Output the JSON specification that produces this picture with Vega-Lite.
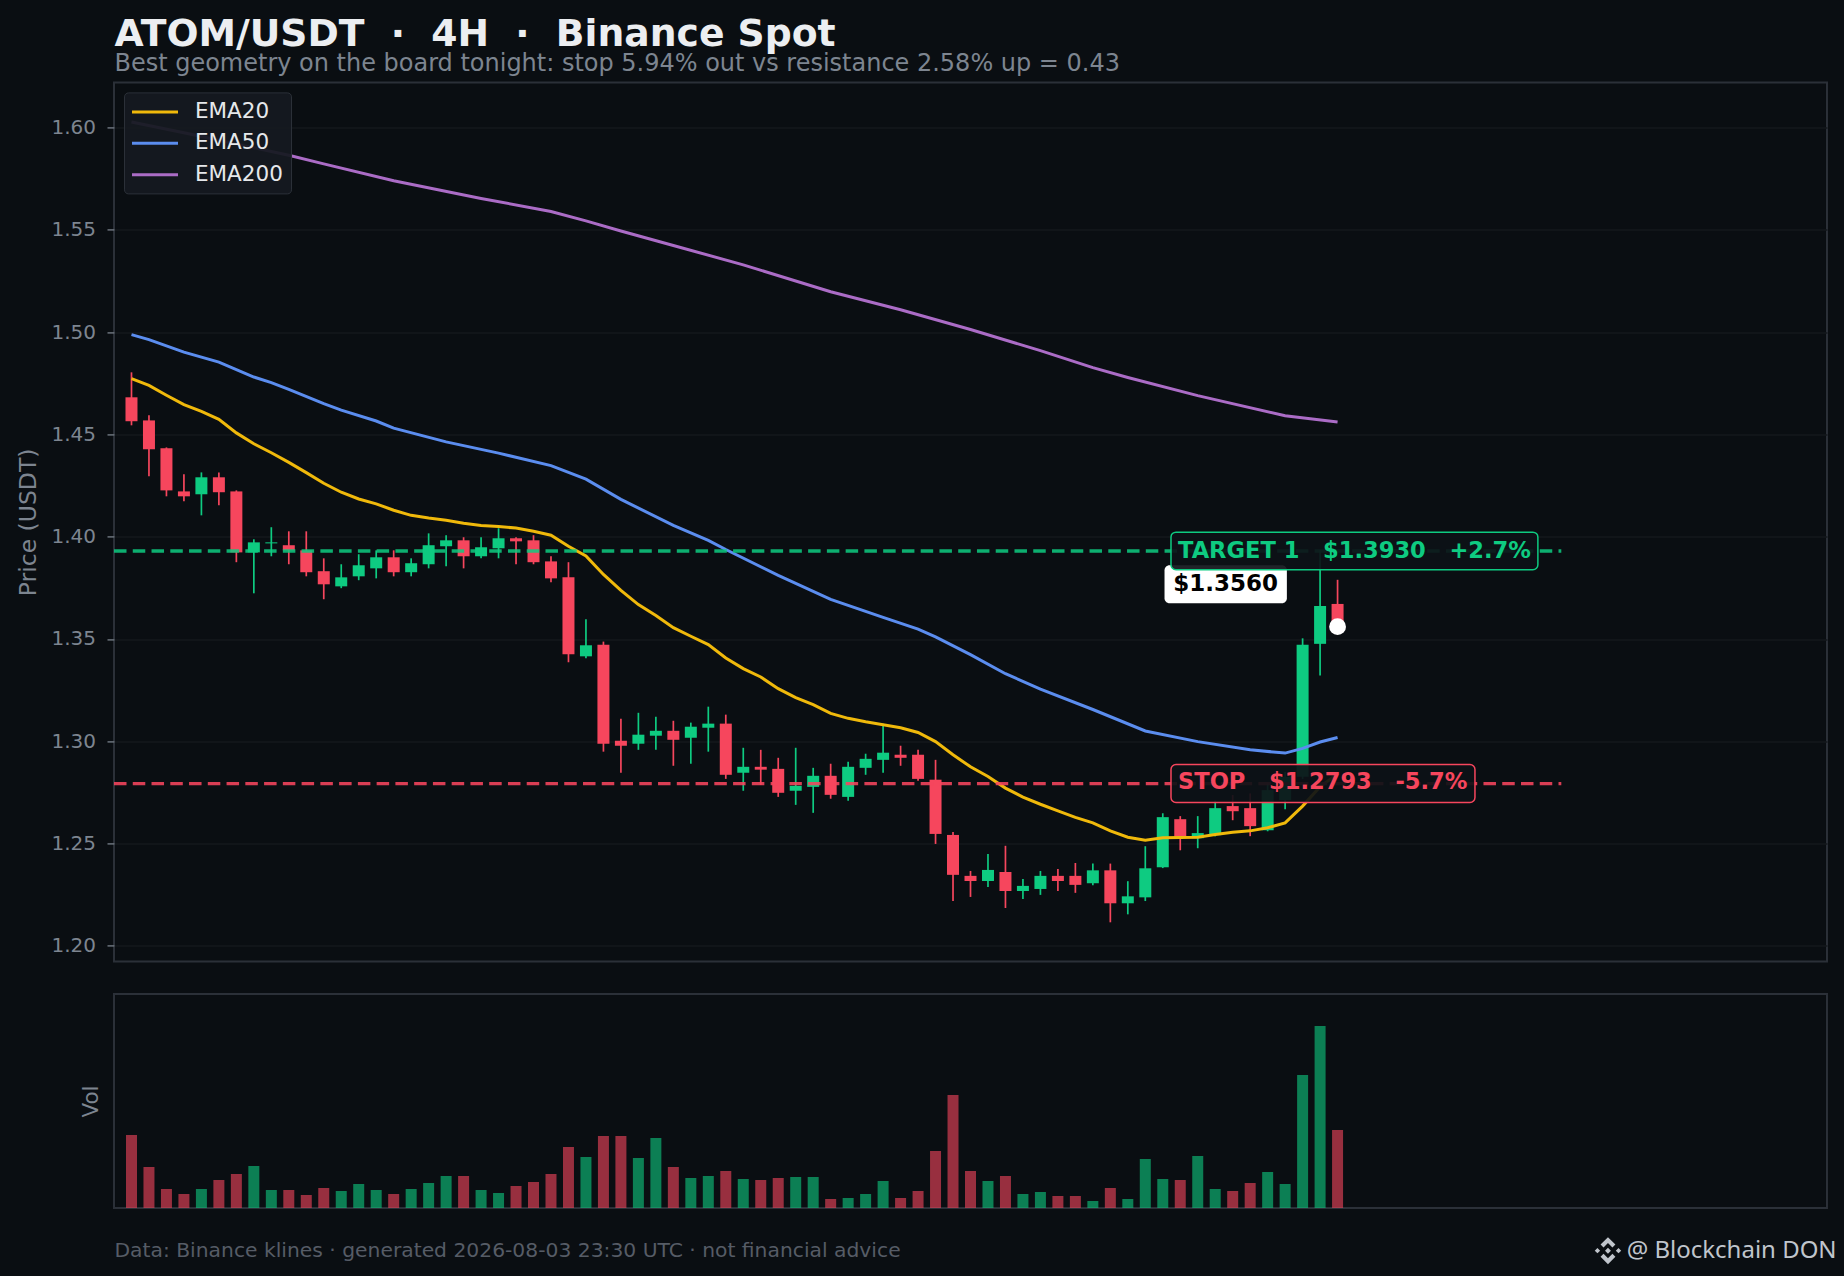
{
  "$schema": "https://vega.github.io/schema/vega-lite/v6.json",
  "background": "#0a0e12",
  "padding": {"left": 15, "top": 15.4, "right": 9, "bottom": 13},
  "title": {
    "text": "ATOM/USDT\u00a0\u00a0·\u00a0\u00a04H\u00a0\u00a0·\u00a0\u00a0Binance Spot",
    "subtitle": "Best geometry on the board tonight: stop 5.94% out vs resistance 2.58% up = 0.43",
    "anchor": "start",
    "dx": 99,
    "font": "DejaVu Sans",
    "fontSize": 37.7,
    "fontWeight": "bold",
    "color": "#eceef1",
    "subtitleFont": "DejaVu Sans",
    "subtitleFontSize": 24,
    "subtitleColor": "#7d8590",
    "subtitlePadding": -1,
    "offset": 5
  },
  "datasets": {
    "candles": [
      {"i":0,"o":1.4681,"h":1.4803,"l":1.4544,"c":1.4564,"v":219,"dir":"down"},
      {"i":1,"o":1.4568,"h":1.4593,"l":1.4295,"c":1.4427,"v":123,"dir":"down"},
      {"i":2,"o":1.4432,"h":1.4436,"l":1.4197,"c":1.4226,"v":57,"dir":"down"},
      {"i":3,"o":1.4221,"h":1.4305,"l":1.4173,"c":1.4197,"v":42,"dir":"down"},
      {"i":4,"o":1.4207,"h":1.4314,"l":1.4104,"c":1.429,"v":57,"dir":"up"},
      {"i":5,"o":1.429,"h":1.4314,"l":1.4153,"c":1.4217,"v":84,"dir":"down"},
      {"i":6,"o":1.4221,"h":1.4226,"l":1.3875,"c":1.3923,"v":102,"dir":"down"},
      {"i":7,"o":1.3923,"h":1.3987,"l":1.3723,"c":1.3972,"v":126,"dir":"up"},
      {"i":8,"o":1.3967,"h":1.4046,"l":1.3904,"c":1.3972,"v":54,"dir":"up"},
      {"i":9,"o":1.3958,"h":1.4026,"l":1.3865,"c":1.3933,"v":54,"dir":"down"},
      {"i":10,"o":1.3933,"h":1.4026,"l":1.3806,"c":1.3826,"v":39,"dir":"down"},
      {"i":11,"o":1.3831,"h":1.3894,"l":1.3694,"c":1.3767,"v":60,"dir":"down"},
      {"i":12,"o":1.3757,"h":1.3865,"l":1.3748,"c":1.3801,"v":51,"dir":"up"},
      {"i":13,"o":1.3806,"h":1.3914,"l":1.3787,"c":1.386,"v":72,"dir":"up"},
      {"i":14,"o":1.3845,"h":1.3933,"l":1.3796,"c":1.3899,"v":54,"dir":"up"},
      {"i":15,"o":1.3899,"h":1.3933,"l":1.3806,"c":1.3826,"v":42,"dir":"down"},
      {"i":16,"o":1.3826,"h":1.3894,"l":1.3806,"c":1.387,"v":57,"dir":"up"},
      {"i":17,"o":1.3865,"h":1.4016,"l":1.3845,"c":1.3958,"v":75,"dir":"up"},
      {"i":18,"o":1.3953,"h":1.4007,"l":1.3855,"c":1.3982,"v":96,"dir":"up"},
      {"i":19,"o":1.3982,"h":1.3997,"l":1.3845,"c":1.3904,"v":96,"dir":"down"},
      {"i":20,"o":1.3904,"h":1.3997,"l":1.3894,"c":1.3948,"v":54,"dir":"up"},
      {"i":21,"o":1.3943,"h":1.4041,"l":1.3894,"c":1.3992,"v":45,"dir":"up"},
      {"i":22,"o":1.3992,"h":1.3997,"l":1.3865,"c":1.3977,"v":66,"dir":"down"},
      {"i":23,"o":1.3982,"h":1.4007,"l":1.3865,"c":1.3875,"v":78,"dir":"down"},
      {"i":24,"o":1.3879,"h":1.3904,"l":1.3777,"c":1.3796,"v":102,"dir":"down"},
      {"i":25,"o":1.3801,"h":1.3875,"l":1.3386,"c":1.3425,"v":183,"dir":"down"},
      {"i":26,"o":1.3415,"h":1.3596,"l":1.3406,"c":1.3469,"v":153,"dir":"up"},
      {"i":27,"o":1.3472,"h":1.3487,"l":1.2949,"c":1.2988,"v":216,"dir":"down"},
      {"i":28,"o":1.3002,"h":1.311,"l":1.2846,"c":1.2978,"v":216,"dir":"down"},
      {"i":29,"o":1.2988,"h":1.3139,"l":1.2958,"c":1.3032,"v":150,"dir":"up"},
      {"i":30,"o":1.3027,"h":1.312,"l":1.2958,"c":1.3051,"v":210,"dir":"up"},
      {"i":31,"o":1.3051,"h":1.31,"l":1.288,"c":1.3007,"v":123,"dir":"down"},
      {"i":32,"o":1.3017,"h":1.3091,"l":1.289,"c":1.3071,"v":90,"dir":"up"},
      {"i":33,"o":1.3066,"h":1.3169,"l":1.2949,"c":1.3086,"v":96,"dir":"up"},
      {"i":34,"o":1.3086,"h":1.313,"l":1.2816,"c":1.2836,"v":111,"dir":"down"},
      {"i":35,"o":1.2846,"h":1.2968,"l":1.2758,"c":1.2875,"v":87,"dir":"up"},
      {"i":36,"o":1.2875,"h":1.2958,"l":1.2787,"c":1.2861,"v":84,"dir":"down"},
      {"i":37,"o":1.2865,"h":1.2919,"l":1.2728,"c":1.2748,"v":90,"dir":"down"},
      {"i":38,"o":1.2758,"h":1.2968,"l":1.2689,"c":1.2782,"v":93,"dir":"up"},
      {"i":39,"o":1.2777,"h":1.287,"l":1.265,"c":1.2831,"v":93,"dir":"up"},
      {"i":40,"o":1.2831,"h":1.289,"l":1.2719,"c":1.2738,"v":27,"dir":"down"},
      {"i":41,"o":1.2728,"h":1.29,"l":1.2709,"c":1.2875,"v":30,"dir":"up"},
      {"i":42,"o":1.287,"h":1.2939,"l":1.2836,"c":1.2914,"v":42,"dir":"up"},
      {"i":43,"o":1.2909,"h":1.3086,"l":1.2846,"c":1.2944,"v":81,"dir":"up"},
      {"i":44,"o":1.2934,"h":1.2978,"l":1.288,"c":1.2919,"v":30,"dir":"down"},
      {"i":45,"o":1.2934,"h":1.2958,"l":1.2807,"c":1.2816,"v":51,"dir":"down"},
      {"i":46,"o":1.2812,"h":1.2909,"l":1.2498,"c":1.2547,"v":171,"dir":"down"},
      {"i":47,"o":1.2542,"h":1.2557,"l":1.2219,"c":1.2347,"v":339,"dir":"down"},
      {"i":48,"o":1.2342,"h":1.2366,"l":1.2239,"c":1.2317,"v":111,"dir":"down"},
      {"i":49,"o":1.2317,"h":1.2449,"l":1.2288,"c":1.2371,"v":81,"dir":"up"},
      {"i":50,"o":1.2361,"h":1.2489,"l":1.2185,"c":1.2268,"v":96,"dir":"down"},
      {"i":51,"o":1.2268,"h":1.2327,"l":1.2229,"c":1.2293,"v":42,"dir":"up"},
      {"i":52,"o":1.2278,"h":1.2366,"l":1.2249,"c":1.2342,"v":48,"dir":"up"},
      {"i":53,"o":1.2342,"h":1.2376,"l":1.2268,"c":1.2317,"v":36,"dir":"down"},
      {"i":54,"o":1.2342,"h":1.2405,"l":1.2259,"c":1.2298,"v":36,"dir":"down"},
      {"i":55,"o":1.2306,"h":1.2402,"l":1.2296,"c":1.2369,"v":21,"dir":"up"},
      {"i":56,"o":1.2369,"h":1.2402,"l":1.2115,"c":1.2208,"v":60,"dir":"down"},
      {"i":57,"o":1.2208,"h":1.2316,"l":1.2154,"c":1.2242,"v":27,"dir":"up"},
      {"i":58,"o":1.2237,"h":1.2487,"l":1.2219,"c":1.2379,"v":147,"dir":"up"},
      {"i":59,"o":1.2384,"h":1.2648,"l":1.238,"c":1.2629,"v":87,"dir":"up"},
      {"i":60,"o":1.2619,"h":1.2634,"l":1.2467,"c":1.2531,"v":84,"dir":"down"},
      {"i":61,"o":1.2526,"h":1.2634,"l":1.2477,"c":1.2551,"v":156,"dir":"up"},
      {"i":62,"o":1.2541,"h":1.271,"l":1.2535,"c":1.2673,"v":57,"dir":"up"},
      {"i":63,"o":1.2683,"h":1.2737,"l":1.2614,"c":1.2658,"v":51,"dir":"down"},
      {"i":64,"o":1.2673,"h":1.2745,"l":1.2536,"c":1.2585,"v":75,"dir":"down"},
      {"i":65,"o":1.2565,"h":1.2794,"l":1.256,"c":1.2761,"v":108,"dir":"up"},
      {"i":66,"o":1.2712,"h":1.285,"l":1.2668,"c":1.2826,"v":72,"dir":"up"},
      {"i":67,"o":1.2826,"h":1.3503,"l":1.2815,"c":1.3471,"v":399,"dir":"up"},
      {"i":68,"o":1.3476,"h":1.3935,"l":1.3321,"c":1.3661,"v":546,"dir":"up"},
      {"i":69,"o":1.3671,"h":1.3789,"l":1.3555,"c":1.356,"v":234,"dir":"down"}
    ],
    "ema": [
      {"i":0,"name":"EMA20","p":1.4772},{"i":1,"name":"EMA20","p":1.4739},{"i":2,"name":"EMA20","p":1.4691},{"i":3,"name":"EMA20","p":1.4645},{"i":4,"name":"EMA20","p":1.4612},{"i":5,"name":"EMA20","p":1.4573},{"i":6,"name":"EMA20","p":1.4507},{"i":7,"name":"EMA20","p":1.4454},{"i":8,"name":"EMA20","p":1.441},{"i":9,"name":"EMA20","p":1.4363},{"i":10,"name":"EMA20","p":1.4313},{"i":11,"name":"EMA20","p":1.4261},{"i":12,"name":"EMA20","p":1.4217},{"i":13,"name":"EMA20","p":1.4184},{"i":14,"name":"EMA20","p":1.416},{"i":15,"name":"EMA20","p":1.4129},{"i":16,"name":"EMA20","p":1.4104},{"i":17,"name":"EMA20","p":1.4091},{"i":18,"name":"EMA20","p":1.408},{"i":19,"name":"EMA20","p":1.4065},{"i":20,"name":"EMA20","p":1.4054},{"i":21,"name":"EMA20","p":1.4049},{"i":22,"name":"EMA20","p":1.4042},{"i":23,"name":"EMA20","p":1.4026},{"i":24,"name":"EMA20","p":1.4007},{"i":25,"name":"EMA20","p":1.3953},{"i":26,"name":"EMA20","p":1.3905},{"i":27,"name":"EMA20","p":1.3815},{"i":28,"name":"EMA20","p":1.3737},{"i":29,"name":"EMA20","p":1.3668},{"i":30,"name":"EMA20","p":1.3614},{"i":31,"name":"EMA20","p":1.3555},{"i":32,"name":"EMA20","p":1.3513},{"i":33,"name":"EMA20","p":1.3472},{"i":34,"name":"EMA20","p":1.3407},{"i":35,"name":"EMA20","p":1.3355},{"i":36,"name":"EMA20","p":1.3314},{"i":37,"name":"EMA20","p":1.3257},{"i":38,"name":"EMA20","p":1.3213},{"i":39,"name":"EMA20","p":1.3179},{"i":40,"name":"EMA20","p":1.3136},{"i":41,"name":"EMA20","p":1.3112},{"i":42,"name":"EMA20","p":1.3095},{"i":43,"name":"EMA20","p":1.3081},{"i":44,"name":"EMA20","p":1.3066},{"i":45,"name":"EMA20","p":1.3043},{"i":46,"name":"EMA20","p":1.2998},{"i":47,"name":"EMA20","p":1.2934},{"i":48,"name":"EMA20","p":1.2875},{"i":49,"name":"EMA20","p":1.2828},{"i":50,"name":"EMA20","p":1.2771},{"i":51,"name":"EMA20","p":1.2727},{"i":52,"name":"EMA20","p":1.2692},{"i":53,"name":"EMA20","p":1.266},{"i":54,"name":"EMA20","p":1.2628},{"i":55,"name":"EMA20","p":1.2601},{"i":56,"name":"EMA20","p":1.2562},{"i":57,"name":"EMA20","p":1.2531},{"i":58,"name":"EMA20","p":1.2516},{"i":59,"name":"EMA20","p":1.2528},{"i":60,"name":"EMA20","p":1.2529},{"i":61,"name":"EMA20","p":1.2531},{"i":62,"name":"EMA20","p":1.2544},{"i":63,"name":"EMA20","p":1.2555},{"i":64,"name":"EMA20","p":1.2562},{"i":65,"name":"EMA20","p":1.2577},{"i":66,"name":"EMA20","p":1.2601},{"i":67,"name":"EMA20","p":1.2683},{"i":68,"name":"EMA20","p":1.2778},{"i":69,"name":"EMA20","p":1.284},
      {"i":0,"name":"EMA50","p":1.4987},{"i":1,"name":"EMA50","p":1.4963},{"i":3,"name":"EMA50","p":1.4902},{"i":5,"name":"EMA50","p":1.4853},{"i":7,"name":"EMA50","p":1.478},{"i":8,"name":"EMA50","p":1.4753},{"i":9,"name":"EMA50","p":1.472},{"i":11,"name":"EMA50","p":1.465},{"i":12,"name":"EMA50","p":1.4618},{"i":14,"name":"EMA50","p":1.4565},{"i":15,"name":"EMA50","p":1.453},{"i":18,"name":"EMA50","p":1.4463},{"i":21,"name":"EMA50","p":1.4408},{"i":24,"name":"EMA50","p":1.4347},{"i":26,"name":"EMA50","p":1.4281},{"i":28,"name":"EMA50","p":1.4182},{"i":31,"name":"EMA50","p":1.4055},{"i":33,"name":"EMA50","p":1.3982},{"i":34,"name":"EMA50","p":1.3937},{"i":37,"name":"EMA50","p":1.3811},{"i":40,"name":"EMA50","p":1.3693},{"i":43,"name":"EMA50","p":1.3605},{"i":45,"name":"EMA50","p":1.3548},{"i":46,"name":"EMA50","p":1.351},{"i":48,"name":"EMA50","p":1.3423},{"i":50,"name":"EMA50","p":1.333},{"i":52,"name":"EMA50","p":1.3255},{"i":55,"name":"EMA50","p":1.3155},{"i":58,"name":"EMA50","p":1.305},{"i":61,"name":"EMA50","p":1.2998},{"i":64,"name":"EMA50","p":1.2958},{"i":66,"name":"EMA50","p":1.2942},{"i":67,"name":"EMA50","p":1.2965},{"i":68,"name":"EMA50","p":1.2996},{"i":69,"name":"EMA50","p":1.3018},
      {"i":0,"name":"EMA200","p":1.6026},{"i":3,"name":"EMA200","p":1.5974},{"i":9,"name":"EMA200","p":1.5864},{"i":11,"name":"EMA200","p":1.5822},{"i":15,"name":"EMA200","p":1.5739},{"i":20,"name":"EMA200","p":1.5653},{"i":24,"name":"EMA200","p":1.5589},{"i":26,"name":"EMA200","p":1.5543},{"i":28,"name":"EMA200","p":1.5494},{"i":31,"name":"EMA200","p":1.5423},{"i":35,"name":"EMA200","p":1.5328},{"i":40,"name":"EMA200","p":1.5197},{"i":44,"name":"EMA200","p":1.5109},{"i":48,"name":"EMA200","p":1.5012},{"i":52,"name":"EMA200","p":1.4909},{"i":55,"name":"EMA200","p":1.4826},{"i":57,"name":"EMA200","p":1.4778},{"i":61,"name":"EMA200","p":1.4689},{"i":66,"name":"EMA200","p":1.4591},{"i":69,"name":"EMA200","p":1.456}
    ]
  },
  "config": {
    "font": "DejaVu Sans",
    "view": {"stroke": "#2b3038", "strokeWidth": 2}
  },
  "spacing": 30.6,
  "vconcat": [
    {
      "width": 1713,
      "height": 879,
      "layer": [
        {
          "data": {"name": "candles"},
          "mark": {"type": "rule", "strokeWidth": 1.7},
          "encoding": {
            "x": {"field": "i", "type": "quantitative", "scale": {"domain": [-1, 97], "nice": false, "zero": false, "padding": 0}, "axis": null},
            "y": {
              "field": "h", "type": "quantitative",
              "scale": {"domain": [1.1924, 1.622], "nice": false, "zero": false},
              "axis": {
                "title": "Price (USDT)", "titleColor": "#7d8590", "titleFontSize": 23.5, "titleFontWeight": "normal", "titlePadding": 10.5,
                "values": [1.2, 1.25, 1.3, 1.35, 1.4, 1.45, 1.5, 1.55, 1.6], "format": ".2f",
                "labelColor": "#7d8590", "labelFontSize": 20, "labelPadding": 11.5,
                "tickColor": "#6b727c", "tickSize": 7, "tickWidth": 1.5, "domain": false,
                "grid": true, "gridColor": "#14181d", "gridWidth": 1.5
              }
            },
            "y2": {"field": "l"},
            "color": {"field": "dir", "type": "nominal", "scale": {"domain": ["up", "down"], "range": ["#0ecb81", "#f6465d"]}, "legend": null}
          }
        },
        {
          "data": {"name": "candles"},
          "mark": {"type": "bar", "size": 12},
          "encoding": {
            "x": {"field": "i", "type": "quantitative"},
            "y": {"field": "o", "type": "quantitative"},
            "y2": {"field": "c"},
            "color": {"field": "dir", "type": "nominal", "legend": null}
          }
        },
        {
          "data": {"name": "ema"},
          "mark": {"type": "line", "strokeWidth": 3, "clip": true},
          "encoding": {
            "x": {"field": "i", "type": "quantitative"},
            "y": {"field": "p", "type": "quantitative"},
            "stroke": {
              "field": "name", "type": "nominal",
              "scale": {"domain": ["EMA20", "EMA50", "EMA200"], "range": ["#f0b90b", "#5b8def", "#ab6cc6"]},
              "legend": {
                "title": null, "orient": "top-left", "offset": 10,
                "fillColor": "rgba(21,26,32,0.94)", "strokeColor": "#2b3038", "cornerRadius": 4, "padding": 8,
                "symbolType": "M-1.15,0L3.45,0", "symbolSize": 400, "symbolStrokeWidth": 3,
                "labelColor": "#e6e8eb", "labelFontSize": 21.5, "labelOffset": 40, "rowPadding": 9.4
              }
            }
          }
        },
        {
          "data": {"values": [{"level": "target", "price": 1.393}]},
          "mark": {"type": "rule", "strokeWidth": 3.4, "strokeDash": [12.5, 6.26], "color": "#0ecb81", "opacity": 0.85},
          "encoding": {"x": {"datum": -1}, "x2": {"datum": 81.8}, "y": {"field": "price", "type": "quantitative"}}
        },
        {
          "data": {"values": [{"level": "stop", "price": 1.2793}]},
          "mark": {"type": "rule", "strokeWidth": 3.4, "strokeDash": [12.5, 6.26], "color": "#f6465d", "opacity": 0.88},
          "encoding": {"x": {"datum": -1}, "x2": {"datum": 81.8}, "y": {"field": "price", "type": "quantitative"}}
        },
        {
          "data": {"values": [{"i": 69, "price": 1.356}]},
          "mark": {"type": "point", "filled": true, "size": 283, "color": "#ffffff", "opacity": 1},
          "encoding": {"x": {"field": "i", "type": "quantitative"}, "y": {"field": "price", "type": "quantitative"}}
        },
        {
          "data": {"values": [{"label": "$1.3560"}]},
          "mark": {"type": "rect", "fill": "#ffffff", "cornerRadius": 5},
          "encoding": {"x": {"datum": 59.1}, "x2": {"datum": 66.1}, "y": {"datum": 1.386}, "y2": {"datum": 1.3674}}
        },
        {
          "data": {"values": [{"label": "$1.3560"}]},
          "mark": {"type": "text", "font": "DejaVu Sans", "fontSize": 23, "fontWeight": "bold", "color": "#000000", "align": "center", "baseline": "middle"},
          "encoding": {"text": {"field": "label"}, "x": {"datum": 62.6}, "y": {"datum": 1.3767}}
        },
        {
          "data": {"values": [{"label": "TARGET 1\u00a0\u00a0\u00a0$1.3930\u00a0\u00a0\u00a0+2.7%"}]},
          "mark": {"type": "rect", "fill": "#0d1117", "fillOpacity": 0.92, "stroke": "#0ecb81", "strokeWidth": 1.5, "cornerRadius": 5},
          "encoding": {"x": {"datum": 59.47}, "x2": {"datum": 80.46}, "y": {"datum": 1.4022}, "y2": {"datum": 1.3838}}
        },
        {
          "data": {"values": [{"label": "TARGET 1\u00a0\u00a0\u00a0$1.3930\u00a0\u00a0\u00a0+2.7%"}]},
          "mark": {"type": "text", "font": "DejaVu Sans", "fontSize": 22.6, "fontWeight": "bold", "color": "#0ecb81", "align": "left", "baseline": "middle"},
          "encoding": {"text": {"field": "label"}, "x": {"datum": 59.87}, "y": {"datum": 1.393}}
        },
        {
          "data": {"values": [{"label": "STOP\u00a0\u00a0\u00a0$1.2793\u00a0\u00a0\u00a0-5.7%"}]},
          "mark": {"type": "rect", "fill": "#0d1117", "fillOpacity": 0.92, "stroke": "#f6465d", "strokeWidth": 1.5, "cornerRadius": 5},
          "encoding": {"x": {"datum": 59.47}, "x2": {"datum": 76.86}, "y": {"datum": 1.2886}, "y2": {"datum": 1.2701}}
        },
        {
          "data": {"values": [{"label": "STOP\u00a0\u00a0\u00a0$1.2793\u00a0\u00a0\u00a0-5.7%"}]},
          "mark": {"type": "text", "font": "DejaVu Sans", "fontSize": 22.6, "fontWeight": "bold", "color": "#f6465d", "align": "left", "baseline": "middle"},
          "encoding": {"text": {"field": "label"}, "x": {"datum": 59.87}, "y": {"datum": 1.28}}
        }
      ]
    },
    {
      "width": 1713,
      "height": 214,
      "layer": [
        {
          "data": {"name": "candles"},
          "mark": {"type": "bar", "size": 11, "opacity": 0.6},
          "encoding": {
            "x": {
              "field": "i", "type": "quantitative",
              "scale": {"domain": [-1, 97], "nice": false, "zero": false, "padding": 0},
              "axis": {
                "title": "Data: Binance klines · generated 2026-08-03 23:30 UTC · not financial advice",
                "titleAnchor": "start", "titleColor": "#565c66", "titleFontSize": 20.3, "titleFontWeight": "normal", "titlePadding": 32.5,
                "labels": false, "ticks": false, "domain": false, "grid": false
              }
            },
            "y": {
              "field": "v", "type": "quantitative",
              "scale": {"domain": [0, 642], "nice": false, "zero": false},
              "axis": {
                "title": "Vol", "titleColor": "#7d8590", "titleFontSize": 21.5, "titleFontWeight": "normal", "titlePadding": 12,
                "labels": false, "ticks": false, "domain": false, "grid": false
              }
            },
            "color": {"field": "dir", "type": "nominal", "scale": {"domain": ["up", "down"], "range": ["#0ecb81", "#f6465d"]}, "legend": null}
          }
        },
        {
          "data": {"values": [{"label": "@ Blockchain DON"}]},
          "mark": {"type": "text", "font": "Noto Sans", "fontSize": 24, "color": "#c0c5cc", "align": "right", "baseline": "middle", "clip": false},
          "encoding": {"text": {"field": "label"}, "x": {"datum": 97.55}, "y": {"datum": -129}}
        },
        {
          "data": {"values": [{"logo": "binance"}]},
          "mark": {
            "type": "point", "filled": true, "size": 729, "color": "#c0c5cc", "opacity": 1, "clip": false,
            "shape": "M0,-0.22L0.22,0L0,0.22L-0.22,0ZM-0.98,0L-0.78,-0.2L-0.58,0L-0.78,0.2ZM0.98,0L0.78,-0.2L0.58,0L0.78,0.2ZM0,-1L0.55,-0.45L0.33,-0.23L0,-0.56L-0.33,-0.23L-0.55,-0.45ZM0,1L0.55,0.45L0.33,0.23L0,0.56L-0.33,0.23L-0.55,0.45Z"
          },
          "encoding": {"x": {"datum": 84.47}, "y": {"datum": -128}}
        }
      ]
    }
  ]
}
